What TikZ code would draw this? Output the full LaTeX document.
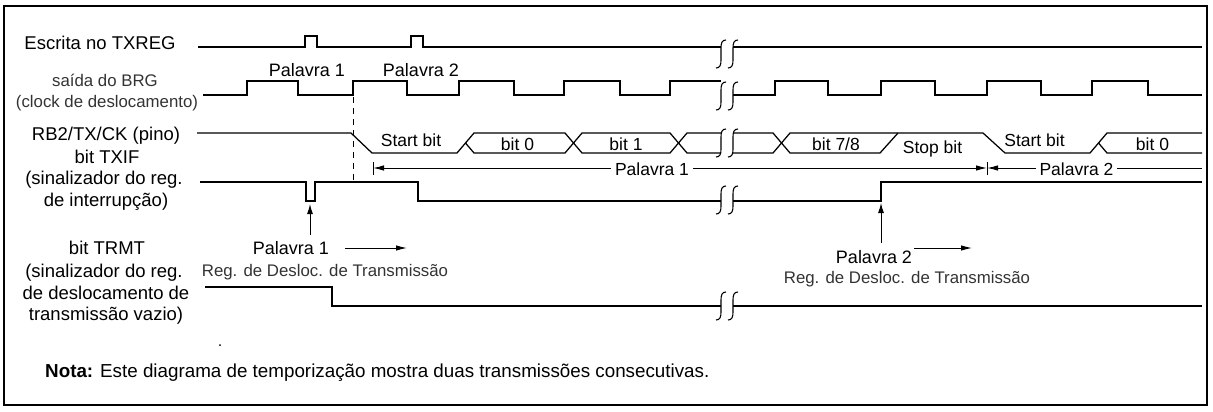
\documentclass[tikz,border=0pt]{standalone}
\usepackage{fontspec}
\setmainfont{Liberation Sans}
\usetikzlibrary{arrows.meta}
\begin{document}
\begin{tikzpicture}[x=1pt,y=-1pt,
  sig/.style={line width=1.25pt, line join=miter},
  brk/.style={line width=1.1pt},
  thinline/.style={line width=1pt},
  lbl/.style={anchor=base, inner sep=0pt, font=\fontsize{18.5}{20}\selectfont},
  notelbl/.style={anchor=base west, inner sep=0pt, font=\fontsize{18.8}{20}\selectfont},
  midlbl/.style={anchor=base, inner sep=0pt, font=\fontsize{17.5}{19}\selectfont},
  pallbl/.style={anchor=base, inner sep=0pt, font=\fontsize{18}{20}\selectfont},
  thinlbl/.style={anchor=base, inner sep=0pt, text=black!80, font=\fontsize{16.8}{18}\selectfont},
  gaplbl/.style={midlbl, fill=white, inner xsep=4pt, inner ysep=1pt},
  harr/.style={line width=1pt, -{Latex[length=11pt,width=5.5pt]}},
  varr/.style={line width=1pt, -{Latex[length=10pt,width=6pt]}},
  brkmark/.pic={\draw[brk] (-5,14) .. controls (-1,14) and (0,11) .. (0,6) -- (0,-6) .. controls (0,-11) and (1,-14) .. (5,-14);}
]
\useasboundingbox (0,0) rectangle (1213,412);
\draw[line width=1.6pt] (4,6) rectangle (1207,405);

% ---------- Escrita no TXREG ----------
\draw[sig] (198,47) -- (305,47) -- (305,36) -- (317,36) -- (317,47) -- (411,47) -- (411,36) -- (423,36) -- (423,47) -- (721,47);
\draw[sig] (733,47) -- (1202,47);
\pic at (721,54) {brkmark}; \pic at (733,54) {brkmark};

% ---------- BRG clock ----------
\draw[sig] (203,95) -- (247,95) -- (247,81) -- (298,81) -- (298,95) -- (353,95) -- (353,81) -- (407,81) -- (407,95) -- (459,95) -- (459,81) -- (514,81) -- (514,95) -- (564,95) -- (564,81) -- (620,81) -- (620,95) -- (670,95) -- (670,81) -- (721,81);
\draw[sig] (733,95) -- (775,95) -- (775,81) -- (828,81) -- (828,95) -- (881,95) -- (881,81) -- (935,81) -- (935,95) -- (987,95) -- (987,81) -- (1041,81) -- (1041,95) -- (1092,95) -- (1092,81) -- (1148,81) -- (1148,95) -- (1202,95);
\pic at (721,96) {brkmark}; \pic at (733,96) {brkmark};

% ---------- RB2/TX/CK data ----------
\draw[sig] (197,133) -- (351,133) -- (372,153) -- (457,153) -- (474,133) -- (565,133) -- (582,153) -- (670,153) -- (687,133) -- (721,133);
\draw[sig] (465.5,143) -- (474,153) -- (565,153) -- (582,133) -- (670,133) -- (687,153) -- (721,153);
\draw[sig] (733,133) -- (773,133) -- (790,153) -- (880,153) -- (898,133);
\draw[sig] (733,153) -- (773,153) -- (790,133) -- (983,133) -- (1005,153) -- (1090,153) -- (1107,133) -- (1202,133);
\draw[sig] (1098.5,143) -- (1107,153) -- (1202,153);
\pic at (721,143) {brkmark}; \pic at (733,143) {brkmark};

% dashed marker
\draw[thinline, dash pattern=on 6pt off 5pt] (353,97) -- (353,183);

% ---------- word span arrows ----------
\coordinate (p1l) at (373,168);
\coordinate (p1r) at (987,168);
\coordinate (p2r) at (1202,168);
\draw[thinline] (373,162) -- (373,175);
\draw[thinline] (987,162) -- (987,175);
\draw[thinline, {Latex[length=11pt,width=5.5pt]}-{Latex[length=11pt,width=5.5pt]}] (p1l) -- (p1r);
\draw[thinline, {Latex[length=11pt,width=5.5pt]}-] (p1r) -- (p2r);
\node[gaplbl] (wp1) at (652,175) {Palavra 1};
\node[gaplbl] (wp2) at (1076.5,175) {Palavra 2};

% ---------- TXIF ----------
\draw[sig] (200,182) -- (306,182) -- (306,201) -- (315,201) -- (315,182) -- (418,182) -- (418,201) -- (721,201);
\draw[sig] (733,201) -- (881,201) -- (881,182) -- (1202,182);
\pic at (721,200) {brkmark}; \pic at (733,200) {brkmark};

% ---------- TRMT ----------
\draw[sig] (205,287) -- (332,287) -- (332,306) -- (721,306);
\draw[sig] (733,306) -- (1202,306);
\pic at (721,306) {brkmark}; \pic at (733,306) {brkmark};

% ---------- left labels ----------
\node[lbl] (l1) at (100,50) {Escrita no TXREG};
\node[thinlbl] (l2) at (105,87) {saída do BRG};
\node[thinlbl] (l3) at (107,107) {(clock de deslocamento)};
\node[lbl] (l4) at (106,140.5) {RB2/TX/CK (pino)};
\node[lbl] (l5) at (107,163) {bit TXIF};
\node[lbl] (l6) at (104,184) {(sinalizador do reg.};
\node[lbl] (l7) at (106,206.5) {de interrupção)};
\node[lbl] (l8) at (107,254.3) {bit TRMT};
\node[lbl] (l9) at (104,277.3) {(sinalizador do reg.};
\node[lbl] (l10) at (106,299) {de deslocamento de};
\node[lbl] (l11) at (106,320.7) {transmissão vazio)};

% ---------- labels on signals ----------
\node[pallbl] (tp1) at (307,77) {Palavra 1};
\node[pallbl] (tp2) at (421,77) {Palavra 2};
\node[midlbl] (sb1) at (411,146.7) {Start bit};
\node[midlbl] (b0a) at (517.5,150) {bit 0};
\node[midlbl] (b1) at (626,150) {bit 1};
\node[midlbl] (b78) at (836,150) {bit 7/8};
\node[midlbl] (stb) at (932.5,153.3) {Stop bit};
\node[midlbl] (sb2) at (1034.5,146.7) {Start bit};
\node[midlbl] (b0b) at (1152.5,150) {bit 0};

% ---------- Palavra 1 / 2 shift register notes ----------
\node[pallbl] (w1) at (291,254.3) {Palavra 1};
\node[thinlbl] (r1) at (325,276) {Reg. de Desloc. de Transmissão};
\coordinate (w1a) at (345,248);
\coordinate (w1b) at (407,248);
\draw[harr] (w1a) -- (w1b);
\coordinate (d1a) at (310,235);
\coordinate (d1b) at (310,204);
\draw[varr] (d1a) -- (d1b);

\node[pallbl] (w2) at (874,263.3) {Palavra 2};
\node[thinlbl] (r2) at (907,283.3) {Reg. de Desloc. de Transmissão};
\coordinate (w2a) at (914,248);
\coordinate (w2b) at (972,248);
\draw[harr] (w2a) -- (w2b);
\coordinate (d2a) at (881,243);
\coordinate (d2b) at (881,203);
\draw[varr] (d2a) -- (d2b);

% ---------- note ----------
\fill (220,345) circle (1pt);
\node[notelbl] (nota) at (45,377.3) {\textbf{Nota:} Este diagrama de temporização mostra duas transmissões consecutivas.};
\end{tikzpicture}
\end{document}
